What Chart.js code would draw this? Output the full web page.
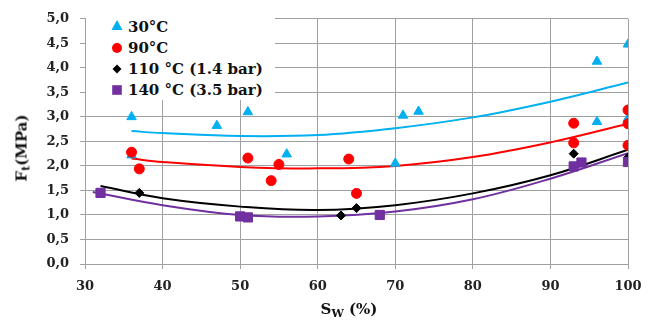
<!DOCTYPE html>
<html>
<head>
<meta charset="utf-8">
<script src="https://cdn.jsdelivr.net/npm/chart.js@4/dist/chart.umd.min.js"></script>
<style>
  html, body { margin: 0; padding: 0; background: #fff; }
  #wrap { position: relative; width: 656px; height: 322px; overflow: hidden; }
  #chart { position: absolute; left: 0; top: 0; }
  .lbl { position: absolute; font: bold 15px "DejaVu Serif", serif; color: #111; white-space: nowrap; line-height: 1; }
  .lbl sub { font-size: 11px; vertical-align: -3px; line-height: 0; }
  #legend { position: absolute; left: 86px; top: 18px; width: 189px; height: 82px; background: #fff; }
  .row { position: absolute; left: 0; height: 20px; }
  .row svg { position: absolute; left: 21px; top: 0; }
  .row span { position: absolute; left: 42px; top: 3px; font: bold 15px "DejaVu Serif", serif; color: #111; white-space: nowrap; line-height: 1; }
</style>
</head>
<body>
<div id="wrap">
  <canvas id="chart" width="656" height="322"></canvas>
  <div id="legend"></div>
  <div class="lbl" style="left:22px; top:148px; transform: translate(-50%, -50%) rotate(-90deg);">F<sub>t</sub>(MPa)</div>
  <div class="lbl" style="left:349px; top:309px; transform: translate(-50%, -50%);">S<sub>W</sub> (%)</div>
</div>
<script>
// Tensile strength Ft vs water saturation Sw, four curing conditions
const seriesLabels = ["30°C", "90°C", "110 °C (1.4 bar)", "140 °C (3.5 bar)"];

const sw30 = [36, 36, 47, 51, 56, 70, 71, 73, 96, 96, 100, 100];
const ft30 = [3.00, 2.22, 2.82, 3.10, 2.24, 2.05, 3.03, 3.11, 4.13, 2.90, 4.48, 2.97];

const sw90 = [36, 37, 51, 54, 55, 64, 65, 93, 93, 100, 100, 100];
const ft90 = [2.28, 1.94, 2.16, 1.70, 2.03, 2.14, 1.44, 2.87, 2.47, 3.14, 2.86, 2.42];

const sw110 = [37, 63, 65, 93, 100];
const ft110 = [1.45, 0.99, 1.14, 2.25, 2.17];

const sw140 = [32, 50, 51, 68, 93, 94, 100];
const ft140 = [1.45, 0.97, 0.95, 1.00, 1.99, 2.07, 2.08];

// trend lines
const trendX30 = [36, 40, 50, 60, 70, 80, 90, 100];
const trend30 = [2.71, 2.67, 2.61, 2.63, 2.77, 2.99, 3.31, 3.70];
const trendX90 = [36, 40, 50, 60, 70, 80, 90, 100];
const trend90 = [2.15, 2.08, 1.98, 1.95, 2.00, 2.18, 2.48, 2.86];
const trendX110 = [32, 40, 50, 60, 70, 80, 90, 100];
const trend110 = [1.59, 1.34, 1.17, 1.10, 1.20, 1.44, 1.81, 2.33];
const trendX140 = [31, 40, 50, 60, 70, 80, 90, 100];
const trend140 = [1.47, 1.20, 1.00, 0.97, 1.07, 1.32, 1.74, 2.26];

const colors = ["#00B0F0", "#FF0000", "#000000", "#7030A0"];
const shapes = ["triangle", "circle", "rectRot", "rect"];
const radii = [5.5, 5, 4.5, 6.5];

const toPoints = (xs, ys) => xs.map((x, i) => ({ x: x, y: ys[i] }));

const markerSets = [[sw30, ft30], [sw90, ft90], [sw110, ft110], [sw140, ft140]].map((d, i) => ({
  label: seriesLabels[i],
  data: toPoints(d[0], d[1]),
  pointStyle: shapes[i],
  pointRadius: radii[i],
  pointBackgroundColor: colors[i],
  pointBorderColor: colors[i],
  pointBorderWidth: 1,
  showLine: false,
  order: 4 - i
}));

const trendSets = [[trendX30, trend30], [trendX90, trend90], [trendX110, trend110], [trendX140, trend140]].map((d, i) => ({
  label: seriesLabels[i] + " trend",
  data: toPoints(d[0], d[1]),
  showLine: true,
  borderColor: colors[i],
  borderWidth: 2,
  pointRadius: 0,
  tension: 0.4,
  order: 10 - i
}));

// legend (html, sits on top of the plot)
const markerSvg = [
  '<polygon points="10,3 15.5,13 4.5,13" />',
  '<circle cx="10" cy="10" r="5" />',
  '<polygon points="10,5.5 14.5,10 10,14.5 5.5,10" />',
  '<rect x="5.2" y="5.2" width="9.6" height="9.6" />'
];
const rowTops = [-1, 20, 41, 62];
const legendBox = document.getElementById("legend");
seriesLabels.forEach((lab, i) => {
  const row = document.createElement("div");
  row.className = "row";
  row.style.top = rowTops[i] + "px";
  row.innerHTML = '<svg width="20" height="20" fill="' + colors[i] + '">' + markerSvg[i] + '</svg><span>' + lab + '</span>';
  legendBox.appendChild(row);
});

const gridGray = "#A0A0A0";
const tickFont = { family: "DejaVu Serif", weight: "bold", size: 13 };

new Chart(document.getElementById("chart"), {
  type: "scatter",
  data: { datasets: markerSets.concat(trendSets) },
  options: {
    responsive: false,
    animation: false,
    layout: { padding: { top: 17, right: 28 } },
    plugins: {
      legend: { display: false },
      tooltip: { enabled: false }
    },
    scales: {
      x: {
        type: "linear",
        min: 30,
        max: 100,
        ticks: { stepSize: 10, font: tickFont, color: "#222", padding: 10 },
        grid: { color: gridGray, lineWidth: 1, tickLength: 5, tickColor: gridGray },
        border: { color: gridGray },
        afterFit: s => { s.height = 58; }
      },
      y: {
        min: 0,
        max: 5,
        ticks: {
          stepSize: 0.5,
          font: tickFont,
          color: "#222",
          padding: 11,
          callback: v => v.toFixed(1).replace(".", ",")
        },
        grid: { color: gridGray, lineWidth: 1, tickLength: 5, tickColor: gridGray },
        border: { color: gridGray },
        afterFit: s => { s.width = 85; }
      }
    }
  }
});
</script>
</body>
</html>
